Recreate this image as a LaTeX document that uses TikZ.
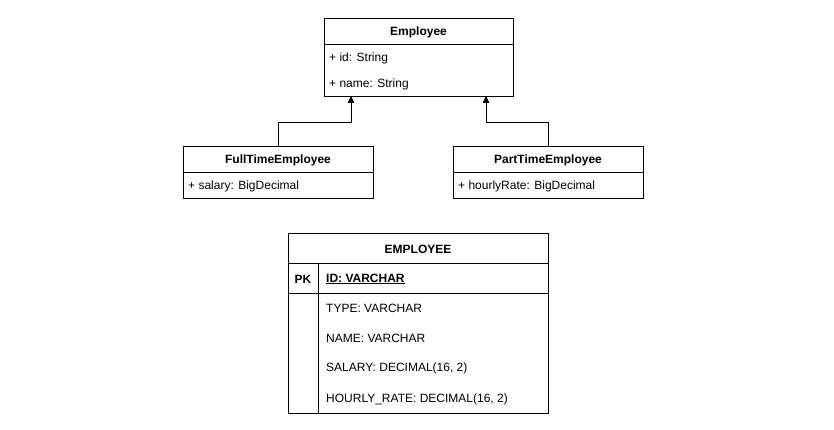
\documentclass[tikz,border=0pt]{standalone}
\usepackage{fontspec}
\setmainfont{Liberation Sans}
\usetikzlibrary{arrows.meta}
\begin{document}
\begin{tikzpicture}[x=1pt,y=-1pt,
  box/.style={draw,line width=0.8pt},
  ttl/.style={font=\fontsize{12}{14}\selectfont\bfseries,inner sep=0pt,yshift=-1pt},
  txt/.style={font=\fontsize{12}{14}\selectfont,inner sep=0pt,anchor=west,yshift=-1pt},
  inh/.style={draw,line width=0.8pt,-{Triangle[length=7pt,width=6.5pt]}}]
\useasboundingbox (0,0) rectangle (834,430);
% Employee
\draw[box] (324,18) rectangle (513,96);
\draw[box] (324,44) -- (513,44);
\node[ttl] (emp) at (418.5,31) {Employee};
\node[txt] (eid) at (329,57) {+ id: String};
\node[txt] (ename) at (329,83) {+ name: String};
\coordinate (empL) at (351,96);
\coordinate (empR) at (486,96);
% FullTime
\draw[box] (183,146) rectangle (373,198);
\draw[box] (183,172) -- (373,172);
\node[ttl] (ft) at (278,159) {FullTimeEmployee};
\node[txt] (fts) at (188,185) {+ salary: BigDecimal};
\coordinate (ftT) at (278,146);
% PartTime
\draw[box] (453,146) rectangle (643,198);
\draw[box] (453,172) -- (643,172);
\node[ttl] (pt) at (548,159) {PartTimeEmployee};
\node[txt] (pth) at (458,185) {+ hourlyRate: BigDecimal};
\coordinate (ptT) at (548,146);
% inheritance
\draw[inh] (ftT) -- (278,122) -- (351,122) -- (empL);
\draw[inh] (ptT) -- (548,122) -- (486,122) -- (empR);
% table
\draw[box] (288,233) rectangle (548,413);
\draw[box] (288,263) -- (548,263);
\draw[box] (288,293) -- (548,293);
\draw[box] (318,263) -- (318,413);
\node[ttl] (tbl) at (418,248) {EMPLOYEE};
\node[ttl] (pk) at (303,278) {PK};
\node[txt,font=\fontsize{12}{14}\selectfont\bfseries] (id) at (326,278) {\underline{ID: VARCHAR}};
\node[txt] (type) at (326,307.5) {TYPE: VARCHAR};
\node[txt] (name) at (326,337.5) {NAME: VARCHAR};
\node[txt] (sal) at (326,367.5) {SALARY: DECIMAL(16, 2)};
\node[txt] (hr) at (326,398) {HOURLY\_RATE: DECIMAL(16, 2)};
\end{tikzpicture}
\end{document}
